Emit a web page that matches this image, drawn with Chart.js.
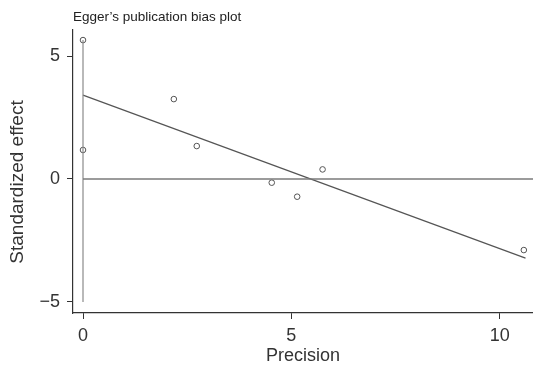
<!DOCTYPE html>
<html>
<head>
<meta charset="utf-8">
<script src="https://cdn.jsdelivr.net/npm/chart.js"></script>
<style>
html, body { margin: 0; padding: 0; background: #fff; }
</style>
</head>
<body>
<canvas id="eggerChart" width="533" height="367"></canvas>
<script>
// study points: precision vs standardized effect
var precision = [0, 0, 2.18, 2.73, 4.53, 5.14, 5.75, 10.58];
var stdEffect = [5.65, 1.18, 3.25, 1.34, -0.15, -0.72, 0.39, -2.89];

// Egger regression line
var fitX = [0, 10.62];
var fitY = [3.41, -3.22];

// intercept interval at precision 0
var ciX = [0, 0];
var ciY = [-5.0, 5.65];

// reference line at zero effect
var zeroX = [0, 10.8];
var zeroY = [0, 0];

var xTicks = [0, 5, 10];
var yTicks = [-5, 0, 5];

function pairs(xs, ys) {
    var out = [];
    for (var i = 0; i < xs.length; i++) out.push({ x: xs[i], y: ys[i] });
    return out;
}

var fontFamily = "'Liberation Sans', Arial, Helvetica, sans-serif";
var ink = '#333';

// title on top and y title (centered on the whole figure, like the original)
var textPlugin = {
    id: 'plotText',
    afterDraw: function(chart) {
        var c = chart.ctx;
        c.save();
        c.font = '13.5px ' + fontFamily;
        c.fillStyle = '#222';
        c.textBaseline = 'middle';
        c.fillText('Egger\u2019s publication bias plot', 73, 17);

        c.translate(18, 182);
        c.rotate(-Math.PI / 2);
        c.font = '19px ' + fontFamily;
        c.fillStyle = ink;
        c.textAlign = 'center';
        c.fillText('Standardized effect', 0, 0);
        c.restore();
    }
};

var ctx = document.getElementById('eggerChart').getContext('2d');
var myChart = new Chart(ctx, {
    type: 'scatter',
    data: {
        datasets: [
            {
                label: 'zero',
                data: pairs(zeroX, zeroY),
                showLine: true,
                borderColor: '#7a7a7a',
                borderWidth: 1.3,
                pointRadius: 0
            },
            {
                label: 'ci',
                data: pairs(ciX, ciY),
                showLine: true,
                borderColor: '#8a8a8a',
                borderWidth: 1.2,
                pointRadius: 0
            },
            {
                label: 'fit',
                data: pairs(fitX, fitY),
                showLine: true,
                borderColor: '#555',
                borderWidth: 1.2,
                pointRadius: 0
            },
            {
                label: 'studies',
                data: pairs(precision, stdEffect),
                showLine: false,
                pointRadius: 2.8,
                pointBorderWidth: 1,
                pointBorderColor: '#555',
                pointBackgroundColor: '#fff'
            }
        ]
    },
    options: {
        responsive: false,
        animation: false,
        layout: { autoPadding: false, padding: { top: 30, right: 0, left: 0, bottom: 0 } },
        plugins: {
            legend: { display: false },
            tooltip: { enabled: false }
        },
        scales: {
            x: {
                type: 'linear',
                min: -0.24,
                max: 10.8,
                afterBuildTicks: function(s) { s.ticks = xTicks.map(function(v) { return { value: v }; }); },
                afterFit: function(s) { s.height = 54; },
                grid: { drawOnChartArea: false, drawTicks: true, tickLength: 6, color: ink },
                border: { display: true, color: ink, width: 1.2 },
                ticks: { color: ink, padding: 6, font: { family: fontFamily, size: 18 }, maxRotation: 0 },
                title: { display: true, text: 'Precision', color: ink, padding: { top: 0, bottom: 0 }, font: { family: fontFamily, size: 18 } }
            },
            y: {
                type: 'linear',
                min: -5.45,
                max: 6.06,
                afterBuildTicks: function(s) { s.ticks = yTicks.map(function(v) { return { value: v }; }); },
                afterFit: function(s) { s.width = 73; },
                grid: { drawOnChartArea: false, drawTicks: true, tickLength: 6, color: ink },
                border: { display: true, color: ink, width: 1.2 },
                ticks: {
                    color: ink,
                    padding: 7,
                    font: { family: fontFamily, size: 18 },
                    callback: function(v) { return v < 0 ? '\u2212' + Math.abs(v) : String(v); }
                },
                title: { display: false }
            }
        }
    },
    plugins: [textPlugin]
});
</script>
</body>
</html>
